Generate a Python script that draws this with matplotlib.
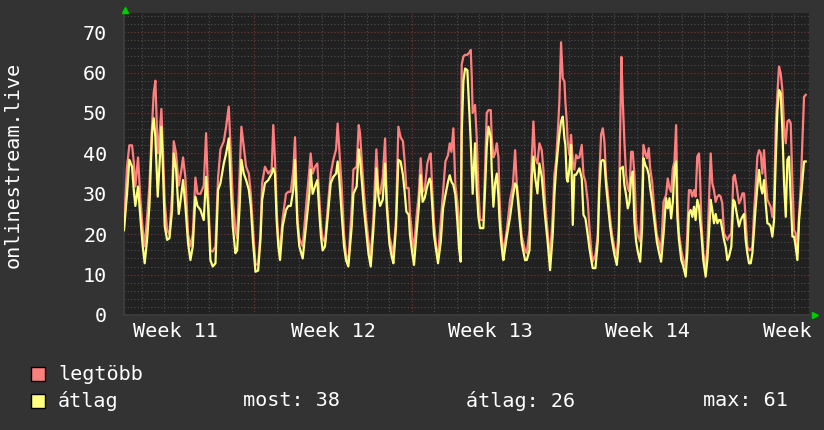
import numpy as np
import matplotlib
matplotlib.use('Agg')
from matplotlib import pyplot as plt
from matplotlib.patches import Rectangle
from matplotlib.lines import Line2D
from matplotlib.transforms import Bbox

# hours since monday 00:00 of week 11
hours = [
    28.9, 32.1, 34.6, 37.5, 39.3, 41.0, 43.9, 46.4, 48.9, 51.0, 53.5, 56.0, 58.8, 60.6, 62.4,
    64.9, 66.7, 68.8, 70.2, 72.4, 74.9, 77.4, 80.2, 82.0, 84.5, 87.3, 90.2, 91.9, 94.4, 97.3,
    99.8, 102.3, 105.1, 107.3, 110.5, 114.0, 116.5, 118.6, 121.1, 123.6, 126.5, 129.3, 131.8,
    135.4, 137.9, 140.7, 142.9, 145.0, 147.8, 149.6, 152.1, 154.2, 156.7, 159.2, 162.1, 164.2,
    166.4, 169.2, 172.0, 174.5, 176.3,
    179.3, 182.9, 186.5, 188.2, 190.0, 191.8, 193.6, 195.4, 198.2, 201.8, 204.3, 206.8, 209.6,
    211.4, 212.4, 213.9, 216.0, 219.6, 223.8, 226.7, 228.1, 230.2, 232.7, 235.2, 237.4, 239.1,
    240.9, 243.4, 247.0, 249.5, 252.3, 255.2, 256.9, 258.7, 261.2, 263.7, 265.8, 268.3, 271.9,
    273.7, 277.2, 279.4, 280.8, 282.6, 285.1, 287.2, 289.7, 292.2, 295.0, 297.2, 298.2, 300.4,
    302.2, 305.0, 307.5, 309.3, 312.1, 314.6, 316.4, 319.2, 321.7,
    324.1, 326.6, 328.4, 330.2, 332.7, 334.1, 336.3, 338.4, 340.9, 343.4, 345.5, 347.6, 349.8,
    352.6, 355.1, 356.2, 357.6, 359.7, 362.2, 364.0, 366.9, 369.4, 371.9, 374.7, 376.5, 378.3,
    380.4, 382.5, 384.7, 386.4, 388.2, 389.3, 391.1, 392.9, 395.3, 397.5, 398.9, 400.0, 401.0,
    403.5, 405.3, 407.1, 408.9, 412.4, 414.2, 416.0, 417.8, 420.3, 421.3, 423.1, 424.9, 426.7,
    428.5, 429.5, 431.0, 433.1, 433.8, 437.4, 440.9, 443.8, 446.3, 448.0, 450.9, 453.4, 456.9,
    458.7, 461.6, 464.1, 465.8, 467.6, 470.1, 472.2, 474.7, 476.5, 478.3, 480.8, 483.6,
    486.4, 488.2, 490.0, 491.7, 493.5, 495.3, 497.1, 498.9, 499.9, 501.4, 502.4, 504.2, 506.0,
    507.8, 509.5, 511.3, 513.1, 514.9, 517.4, 519.2, 521.3, 523.8, 525.6, 527.3, 529.1, 532.0,
    534.5, 536.2, 538.0, 539.8, 541.6, 543.4, 545.1, 547.6, 549.8, 552.3, 554.8, 556.9, 558.3,
    559.7, 561.2, 562.9, 564.7, 566.5, 568.3, 570.1, 571.8, 573.6, 575.4, 577.2, 579.7, 581.8,
    583.2, 585.4, 587.1, 588.9, 590.4, 592.5, 595.0, 597.5, 599.6, 602.1, 604.6, 607.4, 609.2,
    611.0, 612.8, 614.6, 616.3, 618.1,
    619.4, 621.1, 623.6, 625.8, 628.3, 630.0, 631.8, 633.6, 635.4, 637.2, 638.9, 640.7, 642.5,
    643.6, 645.0, 647.1, 649.6, 651.4, 653.2, 655.0, 656.7, 658.5, 660.3, 662.1, 663.9, 665.6,
    667.4, 669.2, 671.0, 672.8, 674.5, 677.0, 679.2, 680.6, 682.7, 685.2, 687.0, 688.8, 690.6,
    692.3, 694.1, 695.9, 697.7, 699.5, 701.2, 703.0, 704.8, 706.6, 708.4, 710.1, 711.9, 713.7,
    715.5, 717.3, 719.0, 720.8, 722.6, 724.4, 726.2, 727.9, 729.7, 731.5, 733.3, 735.1, 736.8,
    738.6, 740.4, 742.2, 744.0, 745.7, 747.5, 749.3, 751.1, 752.9, 754.6, 756.4,
]

legtobb = [
    22, 36.7, 42, 42, 38, 31.8, 39, 28.5, 21, 17, 24, 32, 46.6, 55, 58,
    40, 44, 51, 42, 28, 21, 20, 30, 43, 40, 32, 36, 39, 34, 20,
    17, 20, 34, 30, 30, 32, 45, 30, 16, 15.7, 17, 34, 41,
    43, 46.6, 51.6, 40, 28.5, 21, 19, 34, 46.6, 41.7, 36.7, 35, 30,
    22, 12.5, 12.5, 20, 32.6,
    36.7, 35, 36, 47, 38.4, 26, 18.6, 16, 24, 30, 30.5, 30.5, 36,
    44, 36, 24, 19, 17, 28.5, 36, 40, 35, 36.7, 37.5, 28.5, 22,
    19, 18, 28.5, 35, 38.4, 41, 47.4, 41, 31.8, 20, 15, 12.8, 26.8,
    36, 36.7, 47, 45, 38.4, 30, 24, 18.6, 14.4, 24, 36, 41, 31,
    30, 34, 43.7, 28.5, 19.4, 17, 14.4, 24, 46.6,
    44, 43, 38, 31.4, 31.4, 24.8, 19.8, 15.7, 24, 29.7, 38.8, 30.5, 31,
    37.5, 39.6, 40, 32.2, 23, 16.5, 14.4, 23, 30.5, 38, 39.6, 42.5, 40.4,
    46.2, 32.2, 28, 23, 17.3, 62, 64, 64.4, 64.4, 65, 65.6, 59, 50,
    52, 44, 31, 23.5, 23.5, 36, 50, 50.7, 50.7, 44, 39, 40, 42.5,
    39, 30, 22, 17, 15.3, 21, 28.5, 31.8, 40.8, 32.6, 26, 19.4, 16,
    15.3, 21, 39, 47.9, 39, 37.5, 42.5, 40.8, 35.9, 27.6, 21, 14,
    24.8, 34.7, 38, 44.6, 52.8, 67.5, 58.6, 57.8, 52.8, 47.9, 42.9, 39.6, 44.6,
    38, 36, 39.6, 38.8, 39, 42.1, 34.7, 33, 28, 21.5, 16.5, 13.2, 14.9,
    19.8, 34.7, 44.6, 46.2, 42.9, 34, 30.5, 24, 19.8, 16.5, 14.9, 21.5, 44.6,
    63.9, 52.8, 42.9, 34.7, 31.4, 30.5, 40.4, 40.4, 34.7, 23.1, 19.8, 18.2, 29.7,
    42.1, 40, 38.8, 41.3, 36.3, 33, 25.6, 19.8, 18.2, 15.7, 28, 29.7, 33.8,
    31.4, 30.5, 36.3, 38, 47,
    28.5, 20.2, 16, 13.6, 12, 20.2, 30.9, 30.9, 29.3, 30.9, 29.3, 39.2, 40,
    34.2, 23.5, 15.3, 12, 16.9, 28.5, 40, 32.6, 30.9, 28, 29.3, 29.7, 29.3,
    27.6, 20.2, 19.4, 18.6, 19.4, 20.2, 34.2, 34.7, 31.8, 27.6, 28.5, 30.1, 30.1,
    23.5, 16.9, 16.1, 16.1, 16.9, 25.2, 31.8, 39.2, 40.8, 40, 35, 40.8, 33.4,
    28.5, 27.6, 26.8, 24.3, 27.6, 46.6, 54.9, 61.5, 59.8, 55.7, 46.6, 42.5, 47.9,
    48.3, 47.4, 32.6, 21, 20.2, 15.3, 25, 31.8, 43.3, 54, 54.5,
]

atlag = [
    21, 30, 38.4, 36.7, 31, 27, 31.8, 24, 17, 12.8, 18.6, 27, 45, 48.7, 44,
    29.3, 36.7, 46.6, 38, 21.9, 18.6, 19, 26, 40, 36, 25, 30, 33.4, 27, 17.7,
    13.6, 17, 29.3, 27, 26, 23.5, 34.2, 27, 13.6, 12, 12.8, 31, 32.6,
    37.5, 40, 43.7, 31.8, 21.9, 15.3, 16, 26, 38.4, 35, 33.4, 31, 27,
    18.6, 10.7, 11, 18.6, 28.5,
    32.6, 33.4, 35, 36.3, 35, 23.5, 17, 13.6, 22, 26, 27, 27, 31,
    38.4, 31.8, 22.7, 17, 14, 23.5, 30, 36, 30, 31.8, 33.4, 25, 19.4,
    16, 17, 26, 32.6, 34.2, 35, 38, 33.4, 25, 17, 13.6, 12, 21.9,
    30, 31.8, 41, 38.4, 33.4, 26, 21, 15.3, 12, 21, 29.3, 36.3, 29.3,
    27, 28.5, 37.5, 27, 17.7, 14.4, 12.8, 21.9, 38.4,
    38, 34.6, 30.5, 25.6, 24.8, 19.8, 15.7, 12.4, 19.8, 26.4, 34.6, 28, 29,
    32, 33.8, 33, 28, 19.8, 15.7, 12.8, 18, 26.4, 29.7, 33, 34.6, 33,
    32.2, 29.7, 23, 16.5, 13.2, 45, 58, 61, 60.6, 50, 43, 36, 30,
    42.5, 31, 24.3, 21.5, 21.5, 31, 41.7, 46.6, 44, 36, 26.8, 32.6, 35,
    29.3, 24, 19, 14.4, 13.6, 19.4, 24.3, 29.3, 32.6, 31.8, 24, 17.7, 13.6,
    13.6, 16, 34.2, 39.2, 34.2, 30.1, 37.5, 34.2, 29.3, 24.3, 18.6, 11.1,
    19.8, 29.7, 36, 40.4, 44.6, 47.9, 49.1, 43.7, 42.1, 33.8, 33, 36.3, 42.1,
    22.3, 34.7, 34.7, 35.5, 36.3, 33.8, 24.8, 23.9, 19.8, 16.5, 14, 11.6, 11.6,
    18.2, 31.4, 38, 38.4, 38, 32, 28, 22, 18.2, 14.9, 12.4, 18.2, 36.3,
    36.3, 36.7, 32.2, 29.7, 26.4, 28, 33.8, 35.5, 23.1, 18.2, 15.7, 13.2, 21.5,
    38.8, 37, 36.3, 34.7, 31.4, 28, 23.1, 18.2, 15.7, 13.2, 19.8, 28.9, 26.4,
    28.9, 23.9, 28, 36.3, 38,
    24.3, 18.6, 13.6, 12, 9.5, 15.3, 25.2, 26, 24.3, 26.8, 23.5, 28.5, 26.8,
    23.5, 20.2, 13.6, 9.5, 13.6, 20.2, 28.5, 26, 22.7, 25, 22.7, 23.5, 23.5,
    21, 18.6, 16.9, 13.6, 14.4, 16.9, 28.5, 28, 25.2, 21.9, 23.5, 24.3, 25,
    18.6, 15.3, 12.8, 12.8, 15.3, 21, 26.8, 31.8, 35.9, 31.8, 30.1, 33.4, 27.6,
    22.7, 22.5, 21.9, 19.4, 23.5, 38.4, 50.7, 55.7, 54.9, 45.8, 32.6, 24.3, 38.4,
    39.2, 28.5, 19.4, 19.4, 16.9, 13.6, 23.5, 28.5, 33.4, 38, 38,
]

week_labels = ['Week 11', 'Week 12', 'Week 13', 'Week 14', 'Week 15']
y_ticks = [0, 10, 20, 30, 40, 50, 60, 70]
series_names = ['legtöbb', 'átlag']
stat_labels = ['most: 38', 'átlag: 26', 'max: 61']

W, H = 824, 430
bg = '#333333'
plot_bg = '#212121'
red = '#ff7f7f'
yellow = '#ffff7f'
minor_c = '#4e4e4e'
major_c = '#7c3636'
mono = 'DejaVu Sans Mono'
fs = 14.5

plt.rcParams['font.family'] = mono

fig = plt.figure(figsize=(W / 100, H / 100), dpi=100, facecolor=bg)
ax = fig.add_axes([124 / W, (H - 315) / H, (809 - 124) / W, (315 - 13) / H])
ax.set_facecolor(plot_bg)

ax.set_xlim(28.9, 759.9)
ax.set_ylim(0, 74.75)

# grid like rrdtool: minor every day / 2 units, major every week / 10 units
for h in np.arange(24, 760, 24):
    if h % 168:
        ax.axvline(h, color=minor_c, lw=0.8, ls=(0, (1, 2)), zorder=1)
for v in np.arange(2, 75, 2):
    if v % 10:
        ax.axhline(v, color=minor_c, lw=0.8, ls=(0, (1, 2)), zorder=1)
for h in [168, 336, 504, 672]:
    ax.axvline(h, color=major_c, lw=0.8, ls=(0, (1, 2)), zorder=1.5)
for v in y_ticks[1:]:
    ax.axhline(v, color=major_c, lw=0.8, ls=(0, (1, 2)), zorder=1.5)

ax.plot(hours, legtobb, color=red, lw=1.6, zorder=3)
ax.plot(hours, atlag, color=yellow, lw=1.6, zorder=4)

ax.set_yticks(y_ticks)
ax.set_yticklabels([str(v) for v in y_ticks])
ax.set_xticks([84 + 168 * i for i in range(len(week_labels))])
ax.set_xticklabels(week_labels)
ax.tick_params(axis='both', length=0, colors='white', labelsize=fs)
ax.tick_params(axis='y', pad=12)
ax.tick_params(axis='x', pad=5)

# the last week label runs past the graph edge and is cut there, as in rrdtool
clip = Bbox.from_extents(0, 0, 812, H)
for lab in ax.get_xticklabels():
    lab.set_clip_on(True)
    lab.set_clip_box(clip)

for side in ['top', 'right']:
    ax.spines[side].set_visible(False)
for side in ['left', 'bottom']:
    ax.spines[side].set_color('#3e3e3e')
    ax.spines[side].set_linewidth(1.2)

fig.text(13 / W, (H - 165) / H, 'onlinestream.live', rotation=90, color='white',
         fontsize=fs, ha='center', va='center')

# arrows at the axis ends
fig.add_artist(Line2D([125 / W], [(H - 10) / H], marker='^', color='#00cc00', ms=5, transform=fig.transFigure))
fig.add_artist(Line2D([815 / W], [(H - 315) / H], marker='>', color='#00cc00', ms=5, transform=fig.transFigure))

# legend
for i, (name, col) in enumerate(zip(series_names, [red, yellow])):
    top = 367 + 27 * i
    fig.add_artist(Rectangle((31 / W, (H - top - 14) / H), 14 / W, 14 / H, facecolor=col,
                             edgecolor='black', lw=1, transform=fig.transFigure))
    fig.text(58 / W, (H - top - 7) / H, name, color='white', fontsize=fs, ha='left', va='center')

for x, s in zip([243, 466, 703], stat_labels):
    fig.text(x / W, (H - 401) / H, s, color='white', fontsize=fs, ha='left', va='center')

fig.savefig('out.png', dpi=100, facecolor=bg)
